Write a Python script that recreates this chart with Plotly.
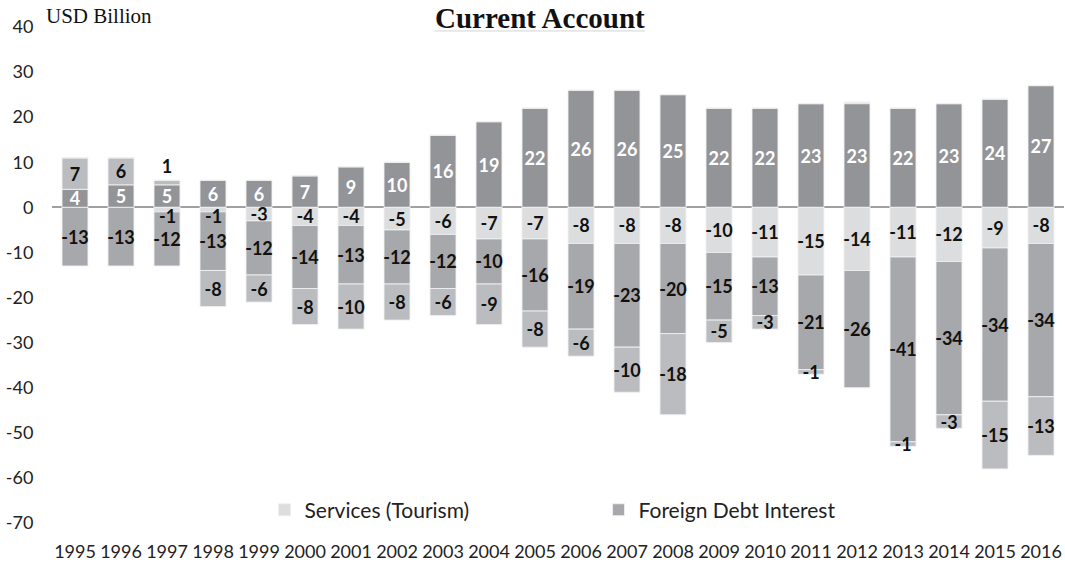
import plotly.graph_objects as go

years = [str(y) for y in range(1995, 2017)]

# positive components (stacked above zero)
surplus_main = [4, 5, 5, 6, 6, 7, 9, 10, 16, 19, 22, 26, 26, 25, 22, 22, 23, 23, 22, 23, 24, 27]
surplus_extra = [7, 6, 1, 0, 0, 0, 0, 0, 0, 0, 0, 0, 0, 0, 0, 0, 0, 0.3, 0, 0, 0, 0]

# negative components (stacked below zero)
services_tourism = [0, 0, -1, -1, -3, -4, -4, -5, -6, -7, -7, -8, -8, -8, -10, -11, -15, -14, -11, -12, -9, -8]
foreign_debt_interest = [-13, -13, -12, -13, -12, -14, -13, -12, -12, -10, -16, -19, -23, -20, -15, -13, -21, -26, -41, -34, -34, -34]
other_outflows = [0, 0, 0, -8, -6, -8, -10, -8, -6, -9, -8, -6, -10, -18, -5, -3, -1, 0, -1, -3, -15, -13]

# value axis ticks
y_tick_values = [40, 30, 20, 10, 0, -10, -20, -30, -40, -50, -60, -70]
y_tick_labels = ["40", "30", "20", "10", "0", "-10", "-20", "-30", "-40", "-50", "-60", "-70"]

SANS = "Lato, 'Open Sans', sans-serif"
SERIF = "'Liberation Serif', 'DejaVu Serif', serif"
EDGE = dict(color="rgba(240,240,240,0.9)", width=1)
LABEL_SIZE = 18
LABEL_FONT = dict(family=SANS, size=LABEL_SIZE, color="#111111", weight="bold")


def labels(vals, skip_thin=False):
    out = []
    for v in vals:
        if abs(v) < 0.5 or (skip_thin and abs(v) <= 1):
            out.append("")
        else:
            out.append("%d" % round(v))
    return out


def bar(name, vals, color, text_color, show, positions=None, skip_thin=False):
    return go.Bar(
        name=name,
        x=years,
        y=vals,
        marker=dict(color=color, line=EDGE),
        text=labels(vals, skip_thin),
        textposition=positions if positions else "inside",
        insidetextanchor="middle",
        textangle=0,
        constraintext="none",
        textfont=dict(LABEL_FONT, color=text_color),
        outsidetextfont=LABEL_FONT,
        showlegend=show,
        hoverinfo="x+y+name",
    )


extra_pos = ["outside" if 0.5 <= v < 2 else "inside" for v in surplus_extra]

fig = go.Figure()
fig.add_trace(bar("Net surplus", surplus_main, "#939498", "#ffffff", False))
fig.add_trace(bar("Other surplus", surplus_extra, "#bbbcbf", "#111111", False, extra_pos))
fig.add_trace(bar("Services (Tourism)", services_tourism, "#dcddde", "#111111", True, skip_thin=True))
fig.add_trace(bar("Foreign Debt Interest", foreign_debt_interest, "#a7a8ab", "#111111", True))
fig.add_trace(bar("Other outflows", other_outflows, "#bbbcbf", "#111111", False))

# thin services slices just below zero: label nudged under the zero line
# (category axis annotations use the category's serial number)
thin_labels = [
    dict(x=i, y=v / 2, xref="x", yref="y", text="%d" % round(v),
         showarrow=False, yshift=-6, borderpad=0, font=LABEL_FONT)
    for i, v in enumerate(services_tourism) if 0.5 <= abs(v) <= 1
]

fig.update_layout(
    width=1065,
    height=563,
    barmode="relative",
    bargap=0.435,
    plot_bgcolor="white",
    paper_bgcolor="white",
    margin=dict(l=52, r=1, t=27, b=36),
    uniformtext=dict(minsize=LABEL_SIZE, mode="show"),
    font=dict(family=SANS, color="#222222"),
    showlegend=True,
    legend=dict(
        orientation="h",
        x=0.210,
        xanchor="left",
        y=0.026,
        yanchor="middle",
        font=dict(family=SANS, size=21, color="#222222"),
        entrywidth=289,
        entrywidthmode="pixels",
        bgcolor="rgba(0,0,0,0)",
    ),
    xaxis=dict(
        type="category",
        range=[-0.5, 21.5],
        showgrid=False,
        showline=False,
        ticks="outside",
        ticklen=12,
        tickcolor="rgba(0,0,0,0)",
        tickfont=dict(family=SANS, size=18, color="#222222"),
    ),
    yaxis=dict(
        range=[-70, 40],
        tickmode="array",
        tickvals=y_tick_values,
        ticktext=y_tick_labels,
        showgrid=False,
        showline=False,
        zeroline=True,
        zerolinecolor="#a0a0a0",
        zerolinewidth=1.5,
        ticks="outside",
        ticklen=14,
        tickcolor="rgba(0,0,0,0)",
        tickfont=dict(family=SANS, size=18, color="#222222"),
    ),
    annotations=[
        dict(
            text="<b>Current Account</b>",
            xref="paper", yref="paper",
            x=0.482, y=1.0, xanchor="center", yanchor="bottom",
            yshift=-9,
            showarrow=False,
            font=dict(family=SERIF, size=29, color="#111111"),
        ),
        dict(
            text="USD Billion",
            xref="paper", yref="paper",
            x=-0.008, y=1.0, xanchor="left", yanchor="bottom",
            yshift=-3,
            showarrow=False,
            font=dict(family=SERIF, size=21, color="#111111"),
        ),
    ] + thin_labels,
    shapes=[
        dict(
            type="line", xref="paper", yref="paper",
            x0=0.378, x1=0.586, y0=0.992, y1=0.992,
            line=dict(color="#d4d4d4", width=1),
        )
    ],
)

fig.write_html("out.html")
